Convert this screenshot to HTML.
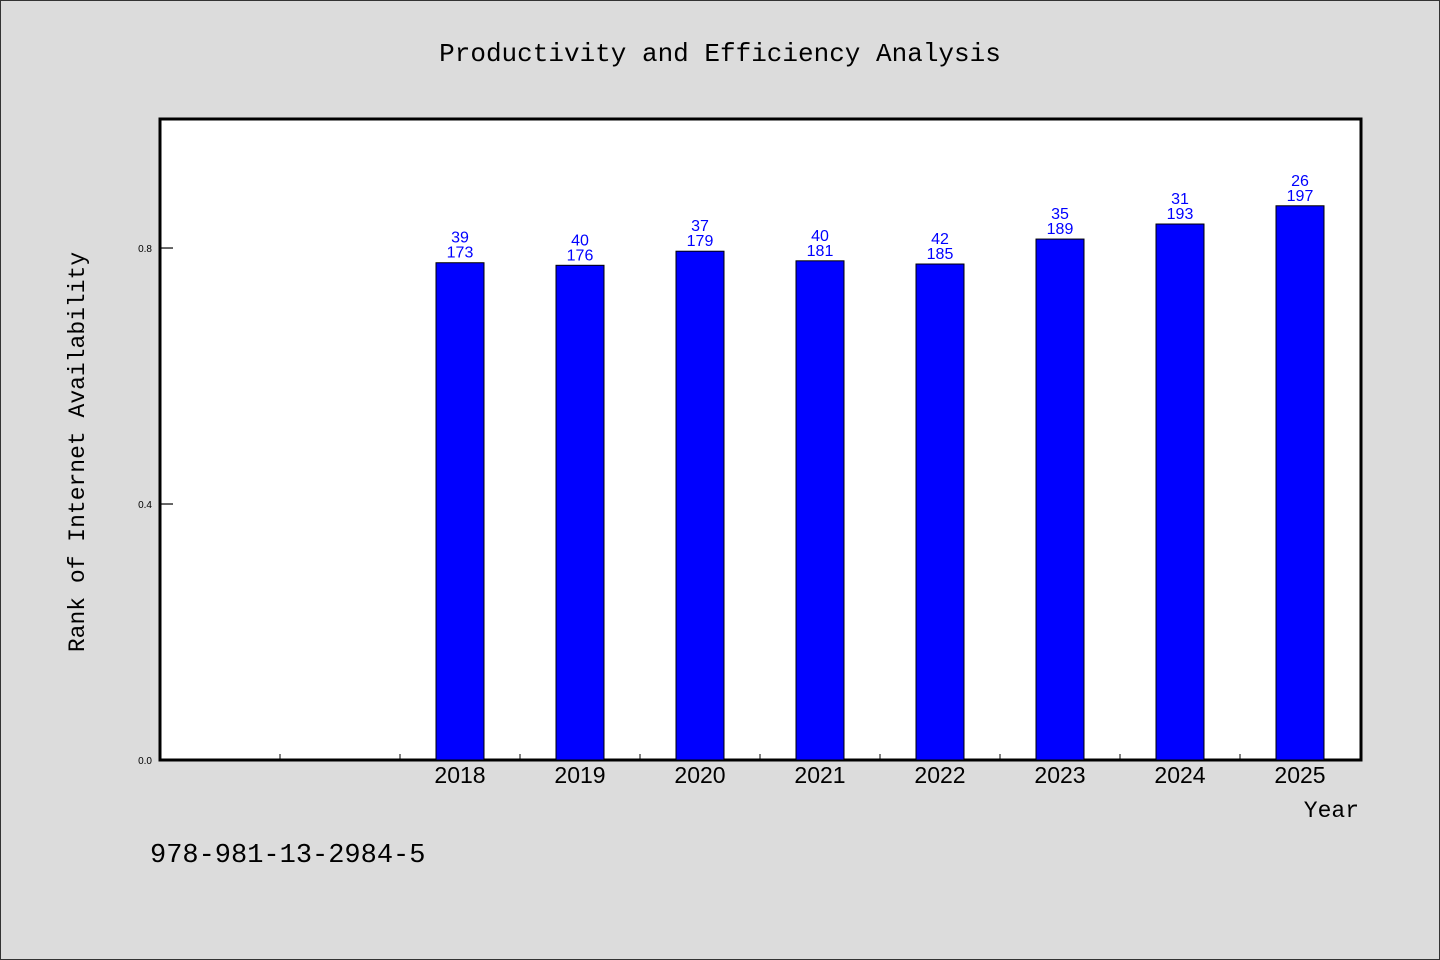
<!DOCTYPE html>
<html><head><meta charset="utf-8"><style>
html,body{margin:0;padding:0;background:#dcdcdc;}
svg{display:block;}
</style></head><body>
<svg id="chart" width="1440" height="960" xmlns="http://www.w3.org/2000/svg">
<rect x="0.5" y="0.5" width="1439" height="959" fill="#dcdcdc" stroke="#333"/>
<text x="720" y="61" text-anchor="middle" font-family="Liberation Mono, monospace" font-size="26" fill="#000">Productivity and Efficiency Analysis</text>
<rect x="160" y="119" width="1201" height="641" fill="#fff" stroke="#000" stroke-width="3"/>
<g id="yaxis"></g>
<g id="xaxis"></g>
<g id="bars"></g>
<text transform="translate(84,452) rotate(-90)" text-anchor="middle" font-family="Liberation Mono, monospace" font-size="23" fill="#000">Rank of Internet Availability</text>
<text x="1359" y="817" text-anchor="end" font-family="Liberation Mono, monospace" font-size="23" fill="#000">Year</text>
<text x="150" y="862" font-family="Liberation Mono, monospace" font-size="27" fill="#000">978-981-13-2984-5</text>
</svg>
<script>
const categories = ["", "", "2018", "2019", "2020", "2021", "2022", "2023", "2024", "2025"];
const values = [null, null, 0.777, 0.773, 0.795, 0.780, 0.775, 0.814, 0.8375, 0.866];
const labelTop = [null, null, 39, 40, 37, 40, 42, 35, 31, 26];
const labelBottom = [null, null, 173, 176, 179, 181, 185, 189, 193, 197];
const yTicks = [0.0, 0.4, 0.8];
const yTickLabels = ["0.0", "0.4", "0.8"];

const NS = "http://www.w3.org/2000/svg";
const x0 = 160, x1 = 1360, y0 = 760, yMax = 1.0016;
const band = (x1 - x0) / categories.length;
const xScale = i => x0 + band * (i + 0.5);
const yScale = v => y0 - (v / yMax) * 641;
function mk(tag, attrs, parent) {
  const e = document.createElementNS(NS, tag);
  for (const k in attrs) e.setAttribute(k, attrs[k]);
  parent.appendChild(e); return e;
}
const yg = document.getElementById('yaxis');
yTicks.forEach((t, i) => {
  const y = yScale(t);
  const l = mk('line', {x1: x0, x2: x0 + 13, y1: y, y2: y, stroke: '#000', 'stroke-width': 1.2}, yg);
  
  
  const tx = mk('text', {x: 152, y: y + 4, 'text-anchor': 'end', 'font-family': 'Liberation Sans, sans-serif', 'font-size': 10, fill: '#000'}, yg);
  tx.textContent = yTickLabels[i];
  
  
});
const xg = document.getElementById('xaxis');
for (let i = 1; i < categories.length; i++) {
  const x = x0 + band * i;
  const l = mk('line', {x1: x, x2: x, y1: y0, y2: y0 - 6, stroke: '#000', 'stroke-width': 1}, xg);
  
  
}
categories.forEach((c, i) => {
  if (!c) return;
  const tx = mk('text', {x: xScale(i), y: 783, 'text-anchor': 'middle', 'font-family': 'Liberation Sans, sans-serif', 'font-size': 23, fill: '#000'}, xg);
  tx.textContent = c;
  
  
});
const bg = document.getElementById('bars');
values.forEach((v, i) => {
  if (v == null) return;
  const cx = xScale(i), top = yScale(v);
  const r = mk('rect', {x: cx - 24, y: top, width: 48, height: y0 - top, fill: '#0000ff', stroke: '#000', 'stroke-width': 1}, bg);
  
  
  const t1 = mk('text', {x: cx, y: top - 20, 'text-anchor': 'middle', 'font-family': 'Liberation Sans, sans-serif', 'font-size': 16, fill: '#0000ff'}, bg);
  t1.textContent = labelTop[i];
  
  
  const t2 = mk('text', {x: cx, y: top - 5, 'text-anchor': 'middle', 'font-family': 'Liberation Sans, sans-serif', 'font-size': 16, fill: '#0000ff'}, bg);
  t2.textContent = labelBottom[i];
  
  
});
</script>
</body></html>
